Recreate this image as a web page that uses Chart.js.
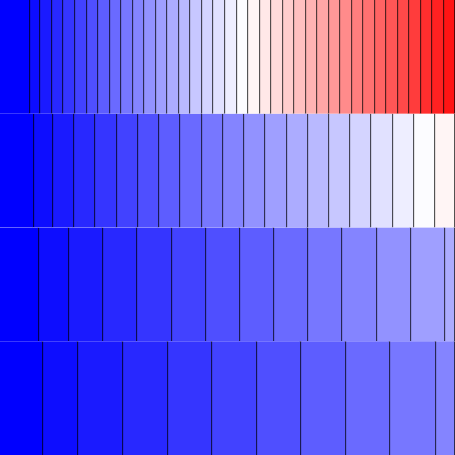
<!DOCTYPE html>
<html>
<head>
<style>html,body{margin:0;padding:0;background:#fff}#wrap{width:455px;height:455px}</style>
<script src="https://cdn.jsdelivr.net/npm/chart.js@4"></script>
</head>
<body>
<div id="wrap"><canvas id="chart"></canvas></div>
<script>
const rows = ['A', 'B', 'C', 'D'];
const row1 = [30,10,12,11,12,12,11,12,11,12,11,12,11,12,11,12,11,12,12,11,12,11,12,11,12,11,12,11,12,11,12,11,12,11,12,11,12,11];
const row2 = [34,19,21,21,22,21,21,21,22,21,21,21,22,21,21,21,21,22,21,21,20];
const row3 = [39,30,34,34,35,34,34,34,34,34,35,34,34,10];
const row4 = [43,35,45,45,44,45,44,45,44,46,19];
const allRows = [row1, row2, row3, row4];

// blue-white-red colormap
function bwr(t) {
  let r, g, b;
  if (t < 0.5) { r = g = Math.round(510 * t); b = 255; }
  else { r = 255; g = b = Math.round(255 - 510 * (t - 0.5)); }
  return `rgb(${r},${g},${b})`;
}

const maxLen = Math.max(...allRows.map(r => r.length));
const datasets = [];
for (let i = 0; i < maxLen; i++) {
  datasets.push({
    data: allRows.map(r => i < r.length ? r[i] : null),
    backgroundColor: bwr(i / 38.5),
    borderColor: '#000',
    borderWidth: {left: 0, right: 1, top: 0, bottom: 0},
    borderSkipped: false,
    barPercentage: 1,
    categoryPercentage: 1
  });
}

new Chart(document.getElementById('chart'), {
  type: 'bar',
  data: { labels: rows, datasets: datasets },
  options: {
    indexAxis: 'y',
    responsive: true,
    maintainAspectRatio: false,
    animation: false,
    layout: { padding: 0 },
    scales: {
      x: { stacked: true, min: 0, max: 455, display: false },
      y: { stacked: true, display: false }
    },
    plugins: { legend: { display: false }, tooltip: { enabled: false } }
  }
});
</script>
</body>
</html>
